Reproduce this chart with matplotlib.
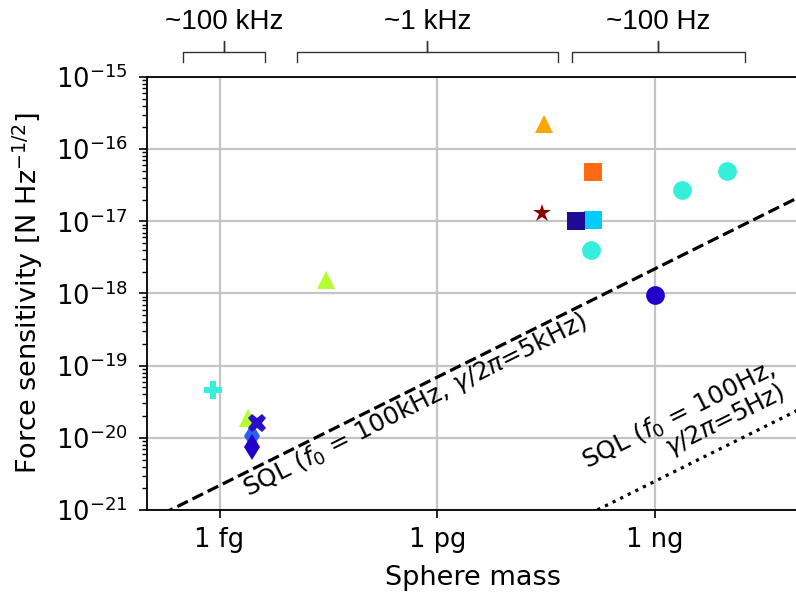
import matplotlib
matplotlib.use("Agg")
import matplotlib.pyplot as plt
import numpy as np

# sphere mass [kg] and force sensitivity [N Hz^-1/2]
pts_mass = [8.1e-19, 2.46e-18, 2.8e-18, 2.8e-18, 3.27e-18, 2.9e-17,
            2.95e-14, 2.75e-14, 1.4e-13, 1.4e-13, 8.3e-14, 1.3e-13,
            2.4e-12, 9.8e-12, 1.0e-12]
pts_force = [4.6e-20, 1.89e-20, 1.07e-20, 7.5e-21, 1.61e-20, 1.55e-18,
             2.2e-16, 1.3e-17, 4.8e-17, 1.05e-17, 1.02e-17, 4.0e-18,
             2.7e-17, 5.0e-17, 9.5e-19]
pts_marker = ['P', '^', 'd', 'd', 'X', '^',
              '^', '*', 's', 's', 's', 'o',
              'o', 'o', 'o']
pts_color = ['#35EFDA', '#B4FF30', '#2A62EE', '#2400CC', '#2B0FC8', '#B4FF30',
             '#FFA500', '#8B0000', '#FF6A13', '#00CCFF', '#1F0A96', '#35EFDA',
             '#35EFDA', '#35EFDA', '#2200CC']

# standard quantum limit lines (end points)
sql_hi_mass = [1e-19, 1e-10]
sql_hi_force = [6.9e-22, 2.2e-17]
sql_lo_mass = [1e-13, 1e-10]
sql_lo_force = [7.9e-22, 2.5e-20]

# frequency bands shown above the plot
band_labels = ['~100 kHz', '~1 kHz', '~100 Hz']
band_lo = [3.13e-19, 1.17e-17, 7.15e-14]
band_hi = [4.2e-18, 4.6e-14, 1.74e-11]

mass_ticks = [1e-18, 1e-15, 1e-12]
mass_labels = ['1 fg', '1 pg', '1 ng']

fig = plt.figure(figsize=(7.96, 5.92), dpi=100)
ax = fig.add_axes([147 / 796, 82 / 592, 653 / 796, 433 / 592])

for m, f, mk, c in zip(pts_mass, pts_force, pts_marker, pts_color):
    ax.plot(m, f, marker=mk, color=c, ms=13.5, mew=0, ls='none', zorder=3)

ax.plot(sql_hi_mass, sql_hi_force, 'k--', lw=2.3, zorder=2)
ax.plot(sql_lo_mass, sql_lo_force, 'k:', lw=2.3, zorder=2)

ax.set_xscale('log')
ax.set_yscale('log')
ax.set_xlim(1e-19, 1e-10)
ax.set_ylim(1e-21, 1e-15)
ax.set_xticks(mass_ticks)
ax.set_xticklabels(mass_labels)
ax.xaxis.set_minor_locator(matplotlib.ticker.NullLocator())
ax.grid(True, which='major', color='#c4c4c4', lw=1.6)
ax.set_axisbelow(True)
ax.tick_params(labelsize=18.5, width=1.2, length=6)
ax.tick_params(axis='x', pad=6)
ax.tick_params(axis='y', pad=8)
ax.tick_params(which='minor', width=1.0, length=3.5)
for s in ax.spines.values():
    s.set_linewidth(1.3)

ax.set_xlabel('Sphere mass', fontsize=19.5, labelpad=9)
ax.set_ylabel(r'Force sensitivity [N Hz$^{-1/2}$]', fontsize=19.5, labelpad=8)

ang = np.degrees(np.arctan(0.5))
ax.text(2.45e-18, 1.55e-21, r'SQL ($f_0$ = 100kHz, $\gamma/2\pi$=5kHz)',
        rotation=ang, rotation_mode='anchor', ha='left', va='baseline', fontsize=18)
ax.text(1.15e-13, 3.6e-21, r'SQL ($f_0$ = 100Hz,',
        rotation=ang, rotation_mode='anchor', ha='left', va='baseline', fontsize=18)
ax.text(1.6e-12, 5.6e-21, r'$\gamma/2\pi$=5Hz)',
        rotation=ang, rotation_mode='anchor', ha='left', va='baseline', fontsize=18)

# brackets with band labels above the axes
tr = ax.get_xaxis_transform()
for lab, lo, hi in zip(band_labels, band_lo, band_hi):
    mid = np.sqrt(lo * hi)
    ax.plot([lo, lo, mid, mid, mid, hi, hi],
            [1.035, 1.058, 1.058, 1.083, 1.058, 1.058, 1.035],
            color='#333333', lw=1.0, transform=tr, clip_on=False)
    ax.text(mid, 1.127, lab, transform=tr, ha='center', va='center',
            fontsize=20, family='Liberation Sans')

fig.savefig('out.png', dpi=100)
